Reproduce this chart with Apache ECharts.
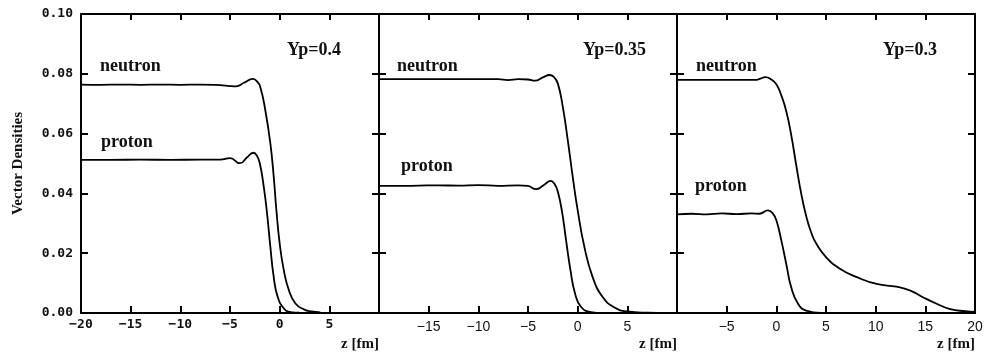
<!DOCTYPE html>
<html>
<head>
<meta charset="utf-8">
<script src="https://cdn.jsdelivr.net/npm/echarts@6/dist/echarts.min.js"></script>
<style>
  html, body { margin: 0; padding: 0; background: #fff; }
  #chart { width: 984px; height: 356px; }
</style>
</head>
<body>
<div id="chart"></div>
<script>
// 三个面板的 z 范围
const panelRanges = [[-20, 10], [-20, 10], [-10, 20]]
const panelTitles = ['Yp=0.4', 'Yp=0.35', 'Yp=0.3']

// Yp=0.4
const neutron04 = [[-20,0.0764],[-18,0.0763],[-16,0.0764],[-14,0.0763],[-12,0.0764],[-10,0.0763],[-8,0.0764],[-6,0.0762],[-5,0.0759],[-4.4,0.0758],[-3.6,0.0770],[-2.7,0.0783],[-2.3,0.0775],[-1.96,0.0757],[-1.45,0.0679],[-0.94,0.0568],[-0.6,0.0456],[-0.33,0.0344],[0,0.0233],[0.41,0.0144],[0.92,0.0077],[1.59,0.0032],[2.43,0.0012],[3.2,0.0005],[4.1,0.0002]]
const proton04 = [[-20,0.0512],[-17,0.0512],[-14,0.0513],[-11,0.0512],[-8,0.0513],[-6,0.0513],[-5,0.0518],[-4.0,0.0501],[-3.3,0.0520],[-2.65,0.0536],[-2.3,0.0527],[-2.0,0.0501],[-1.6,0.0422],[-1.27,0.0333],[-0.94,0.0222],[-0.6,0.0121],[-0.2,0.0054],[0.41,0.0016],[1.08,0.0003],[2,0.0001]]

// Yp=0.35
const neutron035 = [[-20,0.0782],[-16,0.0782],[-12,0.0782],[-8,0.0782],[-7,0.0779],[-6,0.0782],[-5,0.0781],[-4.3,0.0777],[-3.5,0.0788],[-2.83,0.0796],[-2.4,0.0790],[-2.0,0.0768],[-1.5,0.0690],[-1.0,0.0579],[-0.5,0.0456],[0,0.0344],[0.67,0.0222],[1.5,0.0121],[2.5,0.0054],[3.67,0.0019],[5,0.0005],[7,0.0001],[9,0]]
const proton035 = [[-20,0.0425],[-18,0.0425],[-16,0.0426],[-14,0.0427],[-12,0.0426],[-10,0.0428],[-8,0.0425],[-6,0.0427],[-5,0.0425],[-4.2,0.0414],[-3.4,0.0428],[-2.73,0.0442],[-2.3,0.0430],[-2.0,0.0406],[-1.6,0.0344],[-1.17,0.0244],[-0.73,0.0144],[-0.27,0.0066],[0.33,0.0021],[1.33,0.0003],[2.5,0]]

// Yp=0.3
const neutron03 = [[-10,0.0780],[-7,0.0780],[-4,0.0780],[-2,0.0780],[-1.6,0.0784],[-1.1,0.0789],[-0.5,0.0781],[0,0.0765],[0.5,0.0728],[1.0,0.0675],[1.5,0.0595],[2.0,0.0495],[2.5,0.0400],[3.0,0.0325],[3.5,0.0270],[4.0,0.0233],[5.0,0.0187],[6.4,0.0148],[8.1,0.0120],[10.1,0.0097],[12.1,0.0088],[13.5,0.0075],[14.8,0.0052],[16.2,0.0030],[17.5,0.0013],[19,0.0006],[20,0.0004]]
const proton03 = [[-10,0.0330],[-8.5,0.0332],[-7,0.0330],[-5.5,0.0333],[-4,0.0331],[-2.5,0.0333],[-1.7,0.0332],[-0.85,0.0343],[-0.4,0.0335],[0,0.0310],[0.5,0.0243],[1.0,0.0164],[1.5,0.0086],[2.2,0.0030],[3.0,0.0008],[4.5,0]]

const panelData = [[neutron04, proton04], [neutron035, proton035], [neutron03, proton03]]

const chart = echarts.init(document.getElementById('chart'))

const LEFT = 81, TOP = 14, PW = 298, PH = 299
const lineStyle = { color: '#000', width: 2 }
const minus = v => (v < 0 ? '\u2212' + (-v) : String(v))

const grids = [], xAxes = [], yAxes = [], series = []
panelRanges.forEach(([min, max], i) => {
	grids.push({ left: LEFT + i * PW, top: TOP, width: PW, height: PH, outerBoundsMode: 'none' })
	// 下方 x 轴
	xAxes.push({
		type: 'value', gridIndex: i, min, max, interval: 5, position: 'bottom',
		name: 'z [fm]', nameLocation: 'end', nameGap: 0,
		nameTextStyle: { fontFamily: 'Liberation Serif', fontWeight: 'bold', fontSize: 15, color: '#111', align: 'right', verticalAlign: 'top', padding: [24, 0, 0, 0] },
		axisLine: { onZero: false, lineStyle }, splitLine: { show: false },
		axisTick: { inside: true, length: 7, lineStyle },
		axisLabel: {
			color: '#111', fontSize: i === 0 ? 13 : 14, margin: i === 0 ? 5 : 7,
			fontFamily: i === 0 ? 'DejaVu Sans Mono' : 'Liberation Sans',
			fontWeight: i === 0 ? 'bold' : 'normal',
			showMinLabel: i === 0, showMaxLabel: i === 2,
			formatter: minus,
		},
	})
	yAxes.push({
		type: 'value', gridIndex: i, min: 0, max: 0.1, interval: 0.02, position: 'left',
		name: i === 0 ? 'Vector Densities' : '', nameLocation: 'middle', nameGap: 55,
		nameTextStyle: { fontFamily: 'Liberation Serif', fontWeight: 'bold', fontSize: 15, color: '#111' },
		axisLine: { onZero: false, lineStyle }, splitLine: { show: false },
		axisTick: { inside: true, length: 7, lineStyle },
		axisLabel: {
			show: i === 0, color: '#111', fontSize: 13, margin: 8,
			fontFamily: 'DejaVu Sans Mono', fontWeight: 'bold',
			formatter: v => v.toFixed(2),
		},
	})
	series.push(...panelData[i].map(d => ({
		type: 'line', xAxisIndex: i, yAxisIndex: i, data: d,
		showSymbol: false, smooth: 0.5,
		lineStyle: { color: '#000', width: 1.8 }, animation: false,
	})))
})
// 上方与右侧的边框（带刻度）
panelRanges.forEach(([min, max], i) => {
	xAxes.push({
		type: 'value', gridIndex: i, min, max, interval: 5, position: 'top',
		axisLine: { onZero: false, lineStyle }, splitLine: { show: false },
		axisTick: { inside: true, length: 6, lineStyle }, axisLabel: { show: false },
	})
	yAxes.push({
		type: 'value', gridIndex: i, min: 0, max: 0.1, interval: 0.02, position: 'right',
		axisLine: { onZero: false, lineStyle }, splitLine: { show: false },
		axisTick: { inside: true, length: 7, lineStyle }, axisLabel: { show: false },
	})
})

// 标注文字
const annFont = 'bold 18px "Liberation Serif"'
const notes = [
	['neutron', 100, 66], ['proton', 101, 142], [panelTitles[0], 287, 50],
	['neutron', 397, 66], ['proton', 401, 166], [panelTitles[1], 583, 50],
	['neutron', 696, 66], ['proton', 695, 186], [panelTitles[2], 883, 50],
]
const graphic = notes.map(([text, x, y]) => ({
	type: 'text', x, y, silent: true,
	style: { text, font: annFont, fill: '#111', verticalAlign: 'middle' },
}))

chart.setOption({
	animation: false,
	grid: grids,
	xAxis: xAxes,
	yAxis: yAxes,
	series,
	graphic,
})
</script>
</body>
</html>
